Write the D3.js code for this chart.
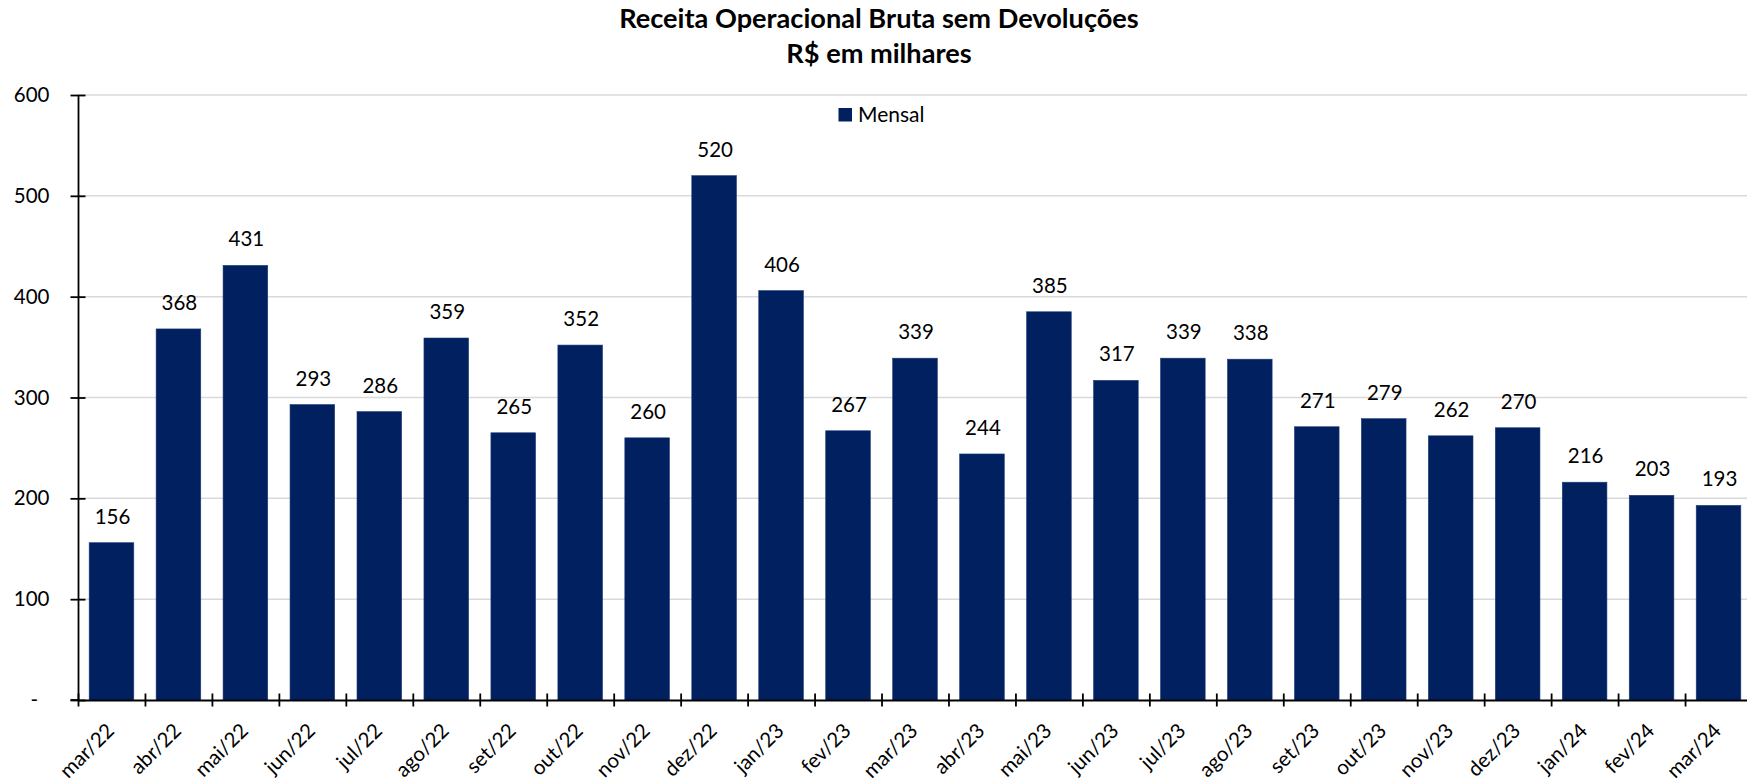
<!DOCTYPE html>
<html>
<head>
<meta charset="utf-8">
<script src="https://cdn.jsdelivr.net/npm/d3@7"></script>
<style>
  html, body { margin: 0; padding: 0; background: #ffffff; }
  svg { display: block; }
  text { font-family: Lato, "Open Sans", sans-serif; fill: #000; }
</style>
</head>
<body>
<svg id="chart" width="1747" height="783"></svg>
<script>
// ---- data ----
const categories = ["mar/22","abr/22","mai/22","jun/22","jul/22","ago/22","set/22","out/22","nov/22","dez/22",
  "jan/23","fev/23","mar/23","abr/23","mai/23","jun/23","jul/23","ago/23","set/23","out/23","nov/23","dez/23",
  "jan/24","fev/24","mar/24"];
const mensal = [156,368,431,293,286,359,265,352,260,520,406,267,339,244,385,317,339,338,271,279,262,270,216,203,193];
const yTicks = [0,100,200,300,400,500,600];
const titleLines = ["Receita Operacional Bruta sem Devoluções", "R$ em milhares"];
const seriesName = "Mensal";

// ---- layout ----
const W = 1747, H = 783;
const plotLeft = 78, plotRightFull = 1752, plotTop = 95, plotBottom = 700;
const barColor = "#002060";

const svg = d3.select("#chart");

const x = d3.scaleBand().domain(categories).range([plotLeft, plotRightFull])
  .paddingInner(1/3).paddingOuter(1/6);
const y = d3.scaleLinear().domain([0, 600]).range([plotBottom, plotTop]);

// gridlines
svg.append("g").selectAll("line").data(yTicks.filter(d => d > 0)).join("line")
  .attr("x1", plotLeft).attr("x2", W)
  .attr("y1", d => y(d)).attr("y2", d => y(d))
  .attr("stroke", "#d9d9d9").attr("stroke-width", 1.5);

// bars
svg.append("g").selectAll("rect").data(mensal).join("rect")
  .attr("x", (d, i) => x(categories[i]))
  .attr("width", x.bandwidth())
  .attr("y", d => y(d))
  .attr("height", d => y(0) - y(d))
  .attr("fill", barColor)
  .attr("stroke", "#1f3a78").attr("stroke-width", 0.6);

// data labels
svg.append("g").selectAll("text").data(mensal).join("text")
  .attr("x", (d, i) => x(categories[i]) + x.bandwidth() / 2 + 1)
  .attr("y", d => y(d) - 19)
  .attr("text-anchor", "middle")
  .style("font-size", "20.5px")
  .text(d => d3.format(",")(d));

// y axis
const yAxis = svg.append("g").attr("transform", `translate(${plotLeft},0)`)
  .call(d3.axisLeft(y).tickValues(yTicks).tickSizeOuter(0).tickSizeInner(7.5)
    .tickPadding(21).tickFormat(d => d === 0 ? "-" : d3.format(",")(d)));
yAxis.select(".domain").attr("stroke", "#000").attr("stroke-width", 1.8);
yAxis.selectAll(".tick line").attr("x1", -7.5).attr("x2", 7.5).attr("stroke", "#000").attr("stroke-width", 1.8);
yAxis.selectAll(".tick text").style("font-size", "20.5px").style("font-family", "Lato, sans-serif").attr("fill", "#000");
yAxis.selectAll(".tick text").filter(d => d === 0).attr("x", -40);

// x axis (ticks at category boundaries)
const xb = d3.scaleLinear().domain([0, categories.length]).range([plotLeft, plotRightFull]);
const xAxis = svg.append("g").attr("transform", `translate(0,${plotBottom})`)
  .call(d3.axisBottom(xb).tickValues(d3.range(categories.length + 1)).tickFormat("").tickSizeOuter(0).tickSizeInner(6.5));
xAxis.select(".domain").attr("stroke", "#000").attr("stroke-width", 1.8);
xAxis.selectAll(".tick line").attr("y1", -6.5).attr("y2", 6.5).attr("stroke", "#000").attr("stroke-width", 1.8);
svg.append("line").attr("x1", plotLeft - 7.5).attr("x2", plotLeft).attr("y1", plotBottom).attr("y2", plotBottom)
  .attr("stroke", "#000").attr("stroke-width", 1.8);

// category labels rotated
svg.append("g").selectAll("text").data(categories).join("text")
  .attr("transform", d => `translate(${x(d) + x.bandwidth() / 2 + 4},${plotBottom + 32}) rotate(-45)`)
  .attr("text-anchor", "end")
  .style("font-size", "20.5px")
  .text(d => d);

// title
const titleCx = 879;
const t1 = svg.append("text").attr("x", titleCx).attr("y", 27.7).attr("text-anchor", "middle")
  .style("font-weight", "bold").style("font-size", "23px").text(titleLines[0]);
const t2 = svg.append("text").attr("x", titleCx).attr("y", 63.3).attr("text-anchor", "middle")
  .style("font-weight", "bold").style("font-size", "23px").text(titleLines[1]);
const w1 = t1.node().getComputedTextLength();
const fs = 23 * 520 / w1;
t1.style("font-size", fs + "px");
t2.style("font-size", fs + "px");

// legend
const lg = svg.append("g");
lg.append("rect").attr("x", 838.5).attr("y", 108).attr("width", 13.5).attr("height", 13.5).attr("fill", barColor);
lg.append("text").attr("x", 858).attr("y", 121.7).style("font-size", "21px").text(seriesName);
</script>
</body>
</html>
